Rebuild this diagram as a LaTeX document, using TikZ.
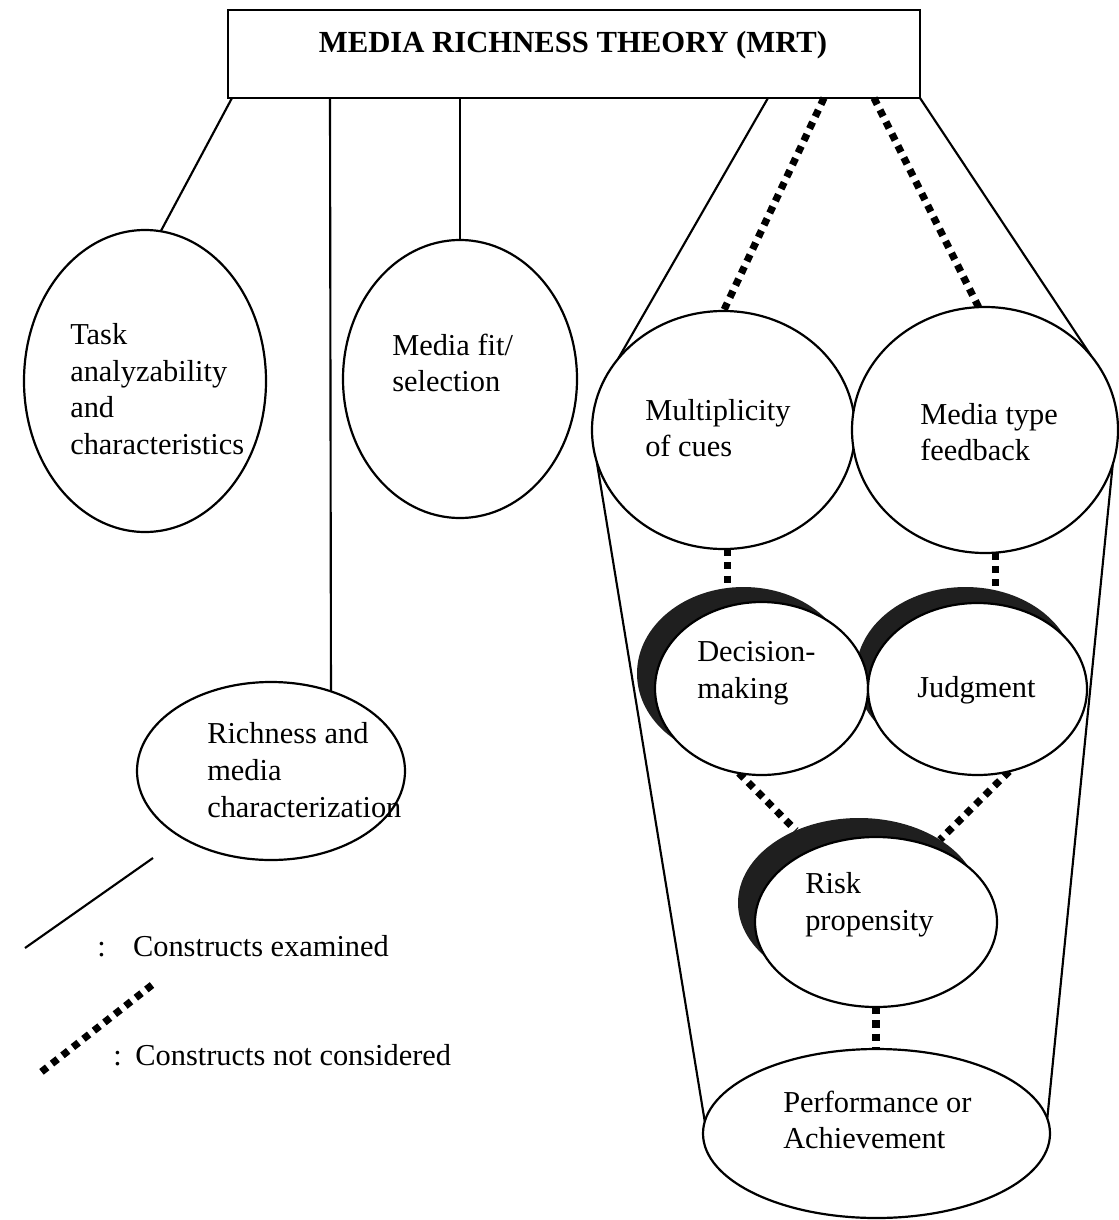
\documentclass[tikz,border=0pt]{standalone}
\usepackage{fontspec}
\setmainfont{Liberation Serif}
\usetikzlibrary{shapes.geometric,backgrounds}
\begin{document}
\begin{tikzpicture}[x=0.75pt,y=-0.75pt,
  txt/.style={font=\fontsize{22.8}{27.6}\selectfont},
  bubble/.style 2 args={ellipse, draw, fill=white, line width=1.65pt,
    minimum width=#1*1.5pt, minimum height=#2*1.5pt, inner sep=0pt, outer sep=0pt},
  crescent/.style 2 args={ellipse, fill=black!88,
    minimum width=#1*1.5pt, minimum height=#2*1.5pt, inner sep=0pt, outer sep=0pt},
  examined/.style={line width=1.6pt},
  notconsidered/.style={line width=5.4pt, dash pattern=on 5.4pt off 4.6pt},
  lbl/.style={txt, align=left, anchor=west, inner sep=0pt}
]
\useasboundingbox (0,0) rectangle (1119,1220);

% title box
\node[draw, line width=1.6pt, minimum width=692*0.75pt, minimum height=88*0.75pt,
      inner sep=0pt, outer sep=0pt] (title) at (574,54) {};
\node[txt, font={\fontsize{23}{27.6}\selectfont\bfseries}] (titletext) at (573,45)
  {MEDIA RICHNESS THEORY (MRT)};

% left-hand constructs
\node[bubble={121}{151}] (task) at (145,381) {};
\node[bubble={117}{139}] (fit) at (460,379) {};
\node[bubble={134}{89}] (rich) at (271,771) {};

% right-hand constructs
\node[bubble={131.5}{119}] (mult) at (723.5,430) {};
\node[bubble={133}{123}] (mtype) at (985,430) {};

\node[crescent={109.5}{86}] (judgs) at (965.5,673) {};
\node[crescent={106.5}{86.5}] (decs) at (743.5,673.5) {};
\node[bubble={106.5}{86.5}] (dec) at (761.5,688.5) {};
\node[bubble={109.5}{86}] (judg) at (977.5,689) {};

\node[crescent={121}{85}] (risks) at (859,903) {};
\node[bubble={121}{85}] (risk) at (876,922) {};

\node[bubble={173.5}{84.5}] (perf) at (876.5,1133.5) {};

% labels
\node[lbl] (tasktext) at (70,389) {Task\\analyzability\\and\\characteristics};
\node[lbl] (fittext) at (392,363) {Media fit/\\selection};
\node[lbl] (richtext) at (207,770) {Richness and\\media\\characterization};
\node[lbl] (multtext) at (645,428) {Multiplicity\\of cues};
\node[lbl] (mtypetext) at (920,432) {Media type\\feedback};
\node[lbl] (dectext) at (697,673) {Decision-\\making};
\node[lbl] (judgtext) at (917,690) {Judgment};
\node[lbl] (risktext) at (805,905) {Risk\\propensity};
\node[lbl] (perftext) at (783,1120) {Performance or\\Achievement};

% legend
\coordinate (leg1a) at (153,858);
\coordinate (leg1b) at (25,948);
\coordinate (leg2a) at (152,985);
\coordinate (leg2b) at (40,1073);
\draw[examined] (leg1a) -- (leg1b);
\draw[notconsidered] (leg2a) -- (leg2b);
\node[lbl] (leg1text) at (97,946) {:\hspace{0.9em}Constructs examined};
\node[lbl] (leg2text) at (113,1055) {:\hspace{0.45em}Constructs not considered};

% connectors, kept behind the bubbles
\coordinate (t1) at (232,98);
\coordinate (t2) at (330,98);
\coordinate (t4) at (768,98);
\coordinate (t5) at (824,98);
\coordinate (t6) at (874,98);
\begin{pgfonlayer}{background}
  \draw[examined] (t1) -- (task.84);
  \draw[examined] (t2) -- (rich.53);
  \draw[examined] (fit.north |- title.south) -- (fit.north);
  \draw[examined] (t4) -- (mult.146);
  \draw[examined] (title.south east) -- (mtype.35);
  \draw[examined] (mult.194) -- (perf.176);
  \draw[examined] (mtype.345) -- (perf.5);
  \draw[notconsidered] (t5) -- (mult.north);
  \draw[notconsidered] (t6) -- (mtype.93);
  \draw[notconsidered] (mult.272) -- (mult.272 |- decs.north);
  \draw[notconsidered] (mtype.275) -- (mtype.275 |- judgs.north);
  \draw[notconsidered] (dec.255) -- (risks.131);
  \draw[notconsidered] (judg.291) -- (risks.38);
  \draw[notconsidered] (risk.south) -- (risk.south |- perf.north);
\end{pgfonlayer}
\end{tikzpicture}
\end{document}
